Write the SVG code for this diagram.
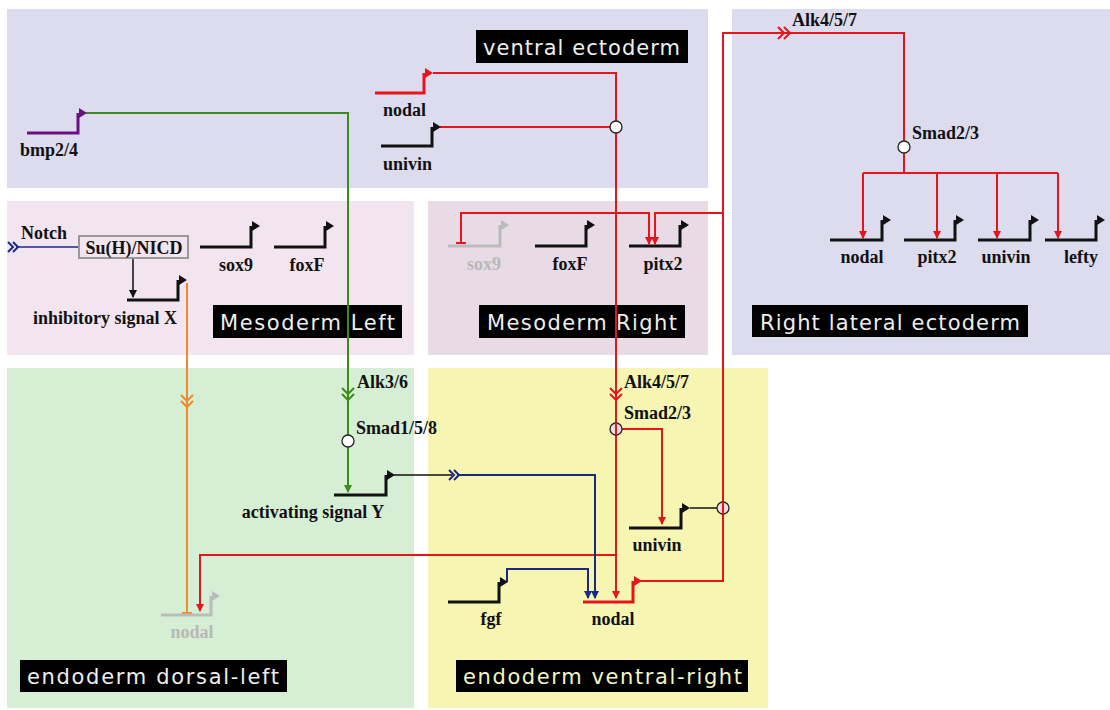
<svg xmlns="http://www.w3.org/2000/svg" xmlns:xlink="http://www.w3.org/1999/xlink" width="1110" height="710" viewBox="0 0 1110 710">
<style>
.g{font-family:"Liberation Serif","Times New Roman",serif;font-weight:bold;font-size:18px;fill:#111}
.gg{fill:#b8b8b8}
.lab{font-family:"DejaVu Sans","Noto Sans",sans-serif;font-size:21px;fill:#eeeeee}
.gl{fill:none;stroke-width:3}
.c{fill:none;stroke-width:2}
.r{stroke:#e8141c}.k{stroke:#111}.gr{stroke:#3b8c1c}.b{stroke:#1a2a80}.o{stroke:#f08a30}.p{stroke:#6a1080}.gy{stroke:#bbbbbb}
.dot{fill:#fff;stroke:#222;stroke-width:1.3}
</style>
<defs>
<path id="ah" d="M0,-5 L8,0 L0,5 Z"/>
<marker id="mr" markerWidth="8" markerHeight="10" refX="7" refY="4" orient="auto" markerUnits="userSpaceOnUse"><path d="M0,0 L8,4 L0,8 Z" fill="#e8141c"/></marker>
<marker id="mg" markerWidth="8" markerHeight="10" refX="7" refY="4" orient="auto" markerUnits="userSpaceOnUse"><path d="M0,0 L8,4 L0,8 Z" fill="#3b8c1c"/></marker>
<marker id="mb" markerWidth="8" markerHeight="10" refX="7" refY="4" orient="auto" markerUnits="userSpaceOnUse"><path d="M0,0 L8,4 L0,8 Z" fill="#1a2a80"/></marker>
<marker id="mk" markerWidth="8" markerHeight="10" refX="7" refY="4" orient="auto" markerUnits="userSpaceOnUse"><path d="M0,0 L8,4 L0,8 Z" fill="#111"/></marker>
</defs>

<!-- regions -->
<g id="regions">
<rect x="7" y="9" width="701" height="179" fill="#dcdcee"/>
<rect x="732" y="9" width="378" height="346" fill="#dcdcee"/>
<rect x="7" y="201" width="407" height="154" fill="#f3e5ef"/>
<rect x="428" y="201" width="280" height="154" fill="#e8dbe6"/>
<rect x="7" y="368" width="407" height="340" fill="#d6eed4"/>
<rect x="428" y="368" width="340" height="340" fill="#f6f6b2"/>
</g>

<g id="region-labels">
<rect x="476" y="30" width="212" height="33" fill="#000"/>
<text class="lab" x="483" y="55" textLength="197">ventral ectoderm</text>
<rect x="752" y="305" width="276" height="32" fill="#000"/>
<text class="lab" x="760" y="330" textLength="260">Right lateral ectoderm</text>
<rect x="213" y="305" width="189" height="33" fill="#000"/>
<text class="lab" x="220" y="330" textLength="175">Mesoderm Left</text>
<rect x="479" y="305" width="206" height="33" fill="#000"/>
<text class="lab" x="487" y="330" textLength="190">Mesoderm Right</text>
<rect x="20" y="660" width="267" height="32" fill="#000"/>
<text class="lab" x="27" y="684" textLength="252">endoderm dorsal-left</text>
<rect x="456" y="660" width="292" height="32" fill="#000"/>
<text class="lab" x="463" y="684" textLength="279" style="fill:#f4f4c4">endoderm ventral-right</text>
</g>

<!-- connectors -->
<g id="connectors">
<!-- green bmp pathway -->
<path class="c gr" d="M86,113 H348 V492" marker-end="url(#mg)"/>
<polyline class="c gr" points="342,388 348,394 354,388"/>
<polyline class="c gr" points="342,394 348,400 354,394"/>
<!-- ventral ectoderm nodal -->
<path class="c r" d="M433,73 H616 V598" marker-end="url(#mr)"/>
<path class="c r" d="M440,127 H610"/>
<polyline class="c r" points="610,388 616,394 622,388"/>
<polyline class="c r" points="610,394 616,400 622,394"/>
<!-- mesoderm right inputs -->
<path class="c r" d="M461,242 V213 H649 V244" marker-end="url(#mr)"/>
<path class="c r" d="M456,243 H466"/>
<path class="c r" d="M723,213 H655 V244" marker-end="url(#mr)"/>
<!-- endoderm VR nodal to right lateral -->
<path class="c r" d="M641,581 H723 V33 H904 V141"/>
<polyline class="c r" points="778,27 784,33 778,39"/>
<polyline class="c r" points="784,27 790,33 784,39"/>
<path class="c r" d="M904,153 V173 M863,173 H1058"/>
<path class="c r" d="M863,173 V238" marker-end="url(#mr)"/>
<path class="c r" d="M937,173 V238" marker-end="url(#mr)"/>
<path class="c r" d="M997,173 V238" marker-end="url(#mr)"/>
<path class="c r" d="M1058,173 V238" marker-end="url(#mr)"/>
<!-- Smad2/3 endo VR to univin -->
<path class="c r" d="M616,429 H662 V524" marker-end="url(#mr)"/>
<path class="c k" d="M690,508 H717" style="stroke-width:1.5"/>
<!-- to endoderm dorsal-left nodal -->
<path class="c r" d="M616,555 H200 V611" marker-end="url(#mr)"/>
<!-- orange inhibitory -->
<path class="c o" d="M187,283 V612"/>
<path class="c o" d="M182,613 H192"/>
<polyline class="c o" points="181,395 187,401 193,395"/>
<polyline class="c o" points="181,401 187,407 193,401"/>
<!-- Notch -->
<path class="c b" d="M16,247 H79" style="stroke-width:1.5"/>
<polyline class="c b" points="8,242 13,247 8,252"/>
<polyline class="c b" points="13,242 18,247 13,252"/>
<path class="c k" d="M133,259 V297" style="stroke-width:1.5" marker-end="url(#mk)"/>
<!-- activating signal Y to endoderm VR -->
<path class="c k" d="M394,475 H452" style="stroke-width:1.5"/>
<polyline class="c b" points="449,470 454,475 449,480"/>
<polyline class="c b" points="454,470 459,475 454,480"/>
<path class="c b" d="M457,475 H595 V598" marker-end="url(#mb)"/>
<!-- fgf -->
<path class="c b" d="M507,582 V569 H588 V598" marker-end="url(#mb)"/>
</g>

<!-- signal transducer circles -->
<g id="smad-nodes">
<circle class="dot" cx="616" cy="127" r="6"/>
<circle class="dot" cx="904" cy="147" r="6"/>
<circle class="dot" cx="348" cy="441" r="6"/>
<circle class="dot" cx="616" cy="429" r="6" style="fill:#f8dce4"/>
<path class="c r" d="M616,423 V435"/>
<circle class="dot" cx="723" cy="508" r="6" style="fill:#f8dce4"/>
<path class="c r" d="M723,502 V514"/>
</g>

<g id="signal-labels">
<text class="g" x="792" y="26">Alk4/5/7</text>
<text class="g" x="912" y="139">Smad2/3</text>
<text class="g" x="624" y="388">Alk4/5/7</text>
<text class="g" x="624" y="419">Smad2/3</text>
<text class="g" x="357" y="388">Alk3/6</text>
<text class="g" x="356" y="434">Smad1/5/8</text>
<text class="g" x="21" y="239">Notch</text>
</g>

<!-- genes -->
<g id="ve-bmp24"><path class="gl p" d="M27,133 H78 V113"/><use href="#ah" x="79" y="113" fill="#6a1080"/><text class="g" x="20" y="156">bmp2/4</text></g>
<g id="ve-nodal"><path class="gl r" d="M375,93 H424 V73"/><use href="#ah" x="425" y="73" fill="#e8141c"/><text class="g" x="383" y="116">nodal</text></g>
<g id="ve-univin"><path class="gl k" d="M381,146 H432 V127"/><use href="#ah" x="433" y="127" fill="#111"/><text class="g" x="383" y="170">univin</text></g>

<g id="ml-suh"><rect x="79" y="236" width="109" height="22" fill="#f3e5ef" stroke="#999" stroke-width="2"/><text class="g" x="134" y="254" text-anchor="middle">Su(H)/NICD</text></g>
<g id="ml-sox9"><path class="gl k" d="M200,247 H251 V226"/><use href="#ah" x="252" y="226" fill="#111"/><text class="g" x="236" y="271" text-anchor="middle">sox9</text></g>
<g id="ml-foxf"><path class="gl k" d="M274,247 H325 V226"/><use href="#ah" x="326" y="226" fill="#111"/><text class="g" x="307" y="271" text-anchor="middle">foxF</text></g>
<g id="ml-inhX"><path class="gl k" d="M127,300 H178 V280"/><use href="#ah" x="179" y="280" fill="#111"/><text class="g" x="105" y="324" text-anchor="middle">inhibitory signal X</text></g>

<g id="mr-sox9"><path class="gl gy" d="M448,246 H500 V225"/><use href="#ah" x="501" y="225" fill="#bbb"/><text class="g gg" x="484" y="270" text-anchor="middle">sox9</text></g>
<g id="mr-foxf"><path class="gl k" d="M535,246 H586 V225"/><use href="#ah" x="587" y="225" fill="#111"/><text class="g" x="570" y="270" text-anchor="middle">foxF</text></g>
<g id="mr-pitx2"><path class="gl k" d="M629,246 H680 V225"/><use href="#ah" x="681" y="225" fill="#111"/><text class="g" x="663" y="270" text-anchor="middle">pitx2</text></g>

<g id="rl-nodal"><path class="gl k" d="M830,240 H882 V220"/><use href="#ah" x="883" y="220" fill="#111"/><text class="g" x="862" y="263" text-anchor="middle">nodal</text></g>
<g id="rl-pitx2"><path class="gl k" d="M904,240 H955 V220"/><use href="#ah" x="956" y="220" fill="#111"/><text class="g" x="937" y="263" text-anchor="middle">pitx2</text></g>
<g id="rl-univin"><path class="gl k" d="M978,240 H1030 V220"/><use href="#ah" x="1031" y="220" fill="#111"/><text class="g" x="1006" y="263" text-anchor="middle">univin</text></g>
<g id="rl-lefty"><path class="gl k" d="M1045,240 H1096 V220"/><use href="#ah" x="1097" y="220" fill="#111"/><text class="g" x="1081" y="263" text-anchor="middle">lefty</text></g>

<g id="edl-actY"><path class="gl k" d="M334,495 H386 V475"/><use href="#ah" x="387" y="475" fill="#111"/><text class="g" x="313" y="518" text-anchor="middle">activating signal Y</text></g>
<g id="edl-nodal"><path class="gl gy" d="M161,615 H211 V596"/><use href="#ah" x="212" y="596" fill="#bbb"/><text class="g gg" x="192" y="638" text-anchor="middle">nodal</text></g>

<g id="evr-univin"><path class="gl k" d="M629,528 H681 V508"/><use href="#ah" x="682" y="508" fill="#111"/><text class="g" x="657" y="551" text-anchor="middle">univin</text></g>
<g id="evr-fgf"><path class="gl k" d="M448,602 H499 V582"/><use href="#ah" x="500" y="582" fill="#111"/><text class="g" x="491" y="625" text-anchor="middle">fgf</text></g>
<g id="evr-nodal"><path class="gl r" d="M583,602 H633 V581"/><use href="#ah" x="634" y="581" fill="#e8141c"/><text class="g" x="613" y="625" text-anchor="middle">nodal</text></g>
</svg>
